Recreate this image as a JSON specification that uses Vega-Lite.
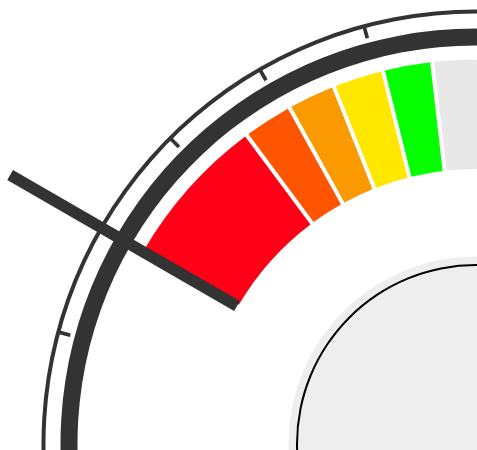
{
  "$schema": "https://vega.github.io/schema/vega-lite/v6.json",
  "width": 477,
  "height": 450,
  "autosize": {"type": "none"},
  "padding": 0,
  "background": "white",
  "config": {"view": {"stroke": null}},
  "datasets": {
    "base": [
      {"part": "disk", "a1": 0, "a2": 360, "r1": 0, "r2": 187.5},
      {"part": "ring", "a1": 0, "a2": 360, "r1": 178, "r2": 180},
      {"part": "dark", "a1": -130, "a2": 130, "r1": 398.5, "r2": 415.5},
      {"part": "dark", "a1": -130, "a2": 130, "r1": 430.5, "r2": 434.5},
      {"part": "dark", "a1": -75.25, "a2": -74.75, "r1": 420, "r2": 432},
      {"part": "dark", "a1": -60.25, "a2": -59.75, "r1": 420, "r2": 432},
      {"part": "dark", "a1": -45.25, "a2": -44.75, "r1": 420, "r2": 432},
      {"part": "dark", "a1": -30.25, "a2": -29.75, "r1": 420, "r2": 432},
      {"part": "dark", "a1": -15.25, "a2": -14.75, "r1": 420, "r2": 432}
    ],
    "band": [
      {"part": "red", "a1": -60, "a2": -36.6, "r1": 275, "r2": 384.5},
      {"part": "orangered", "a1": -36.6, "a2": -29.0, "r1": 275, "r2": 384.5},
      {"part": "orange", "a1": -29.0, "a2": -21.7, "r1": 275, "r2": 384.5},
      {"part": "yellow", "a1": -21.7, "a2": -14.0, "r1": 275, "r2": 384.5},
      {"part": "green", "a1": -14.0, "a2": -6.55, "r1": 275, "r2": 384.5},
      {"part": "rest", "a1": -6.55, "a2": 60, "r1": 275, "r2": 384.5}
    ],
    "needle": [
      {"x1": -239.0, "y1": 138.0, "x2": -465.9, "y2": 269.0}
    ]
  },
  "layer": [
    {
      "data": {"name": "base"},
      "mark": {"type": "arc", "clip": true},
      "encoding": {
        "x": {"datum": 0, "type": "quantitative", "scale": {"domain": [-476, 1], "nice": false, "zero": false}, "axis": null},
        "y": {"datum": 0, "type": "quantitative", "scale": {"domain": [-6, 444], "nice": false, "zero": false}, "axis": null},
        "theta": {"field": "a1", "type": "quantitative", "stack": null, "scale": {"domain": [0, 360], "range": [0, 6.283185307179586]}},
        "theta2": {"field": "a2"},
        "radius": {"field": "r1", "type": "quantitative", "scale": {"type": "linear", "domain": [0, 500], "range": [0, 500], "nice": false}},
        "radius2": {"field": "r2"},
        "color": {"field": "part", "type": "nominal", "legend": null,
          "scale": {"domain": ["disk", "ring", "dark", "red", "orangered", "orange", "yellow", "green", "rest"],
                    "range": ["#eeeeee", "#000000", "#333333", "#ff0016", "#ff5500", "#fa9900", "#ffe700", "#05ff00", "#e8e8e8"]}}
      }
    },
    {
      "data": {"name": "band"},
      "mark": {"type": "arc", "clip": true, "padAngle": 0.0085},
      "encoding": {
        "x": {"datum": 0, "type": "quantitative", "scale": {"domain": [-476, 1], "nice": false, "zero": false}, "axis": null},
        "y": {"datum": 0, "type": "quantitative", "scale": {"domain": [-6, 444], "nice": false, "zero": false}, "axis": null},
        "theta": {"field": "a1", "type": "quantitative", "stack": null, "scale": {"domain": [0, 360], "range": [0, 6.283185307179586]}},
        "theta2": {"field": "a2"},
        "radius": {"field": "r1", "type": "quantitative", "scale": {"type": "linear", "domain": [0, 500], "range": [0, 500], "nice": false}},
        "radius2": {"field": "r2"},
        "color": {"field": "part", "type": "nominal", "legend": null,
          "scale": {"domain": ["disk", "ring", "dark", "red", "orangered", "orange", "yellow", "green", "rest"],
                    "range": ["#eeeeee", "#000000", "#333333", "#ff0016", "#ff5500", "#fa9900", "#ffe700", "#05ff00", "#e8e8e8"]}}
      }
    },
    {
      "data": {"name": "needle"},
      "mark": {"type": "rule", "color": "#333333", "strokeWidth": 11.5, "clip": true},
      "encoding": {
        "x": {"field": "x1", "type": "quantitative", "scale": {"domain": [-476, 1], "nice": false, "zero": false}, "axis": null},
        "y": {"field": "y1", "type": "quantitative", "scale": {"domain": [-6, 444], "nice": false, "zero": false}, "axis": null},
        "x2": {"field": "x2"},
        "y2": {"field": "y2"}
      }
    }
  ]
}
